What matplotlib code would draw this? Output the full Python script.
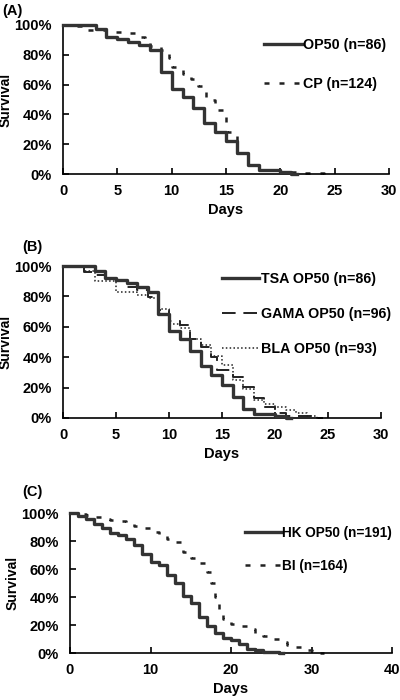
import matplotlib
matplotlib.use("Agg")
import matplotlib.pyplot as plt

plt.rcParams['font.family'] = ['Liberation Sans', 'DejaVu Sans']
plt.rcParams['font.weight'] = 'bold'

# Panel A
a_op50_days = [0, 3, 4, 5, 6, 7, 8, 9, 10, 11, 12, 13, 14, 15, 16, 17, 18, 20, 21, 21.5]
a_op50_surv = [100, 97, 92, 90.5, 88.5, 86.5, 83, 68.5, 57, 52, 44, 34, 28, 22, 14, 6, 2.5, 1.2, 0, 0]
a_cp_days = [0, 1, 2, 4, 5, 6, 7, 7.5, 8, 9, 9.8, 10, 11, 11.8, 12.4, 13, 13.2, 14, 15, 15.1, 16, 17, 18, 20, 22, 24, 24.5]
a_cp_surv = [100, 99, 96.5, 95.5, 95, 94.5, 92, 89, 86, 83, 78, 72, 67, 64, 59, 56, 50, 43, 35, 28, 14, 6, 3, 1.5, 0.8, 0, 0]

# Panel B
b_tsa_days = a_op50_days
b_tsa_surv = a_op50_surv
b_gama_days = [0, 2, 3, 4, 5, 6, 7, 8, 9, 10, 11, 12, 13, 14, 14.5, 16, 17, 18, 19, 20, 21, 22, 24, 24.5]
b_gama_surv = [100, 96, 94, 92, 90, 86, 84, 79.5, 71, 64, 61, 52, 47, 40, 31.5, 27, 20.5, 13, 7.5, 3, 1.5, 1, 0, 0]
b_bla_days = [0, 2, 3, 5, 7, 8, 9, 10, 11, 12, 13, 14, 15, 16, 17, 18, 19, 20, 21, 22, 23, 24, 24.5]
b_bla_surv = [100, 97, 90, 83, 81, 79, 72, 62, 59, 52, 48, 41, 35, 25, 19, 12, 9, 7, 5, 3.3, 1, 0, 0]

# Panel C
c_hk_days = [0, 1, 2, 3, 4, 5, 6, 7, 8, 9, 10, 11, 12, 13, 14, 15, 16, 17, 18, 19, 20, 21, 22, 23, 24, 26, 26.5]
c_hk_surv = [100, 98, 96, 92, 89, 86, 84, 81.5, 77, 71, 65, 63, 56, 50, 41, 35.5, 26, 19.5, 14.5, 10.5, 9, 6.5, 3.2, 2, 1, 0, 0]
c_bi_days = [0, 1, 2, 3, 4, 5, 6, 7, 8, 9, 10, 11, 12, 13, 14, 15, 16, 17, 17.5, 18, 18.5, 19, 20, 21, 22, 23, 24, 25, 26, 27, 28, 29, 30, 31, 31.5]
c_bi_surv = [100, 99.5, 98.5, 97, 96, 95, 94, 92.5, 90.5, 89, 86.5, 84, 81.5, 79, 72, 68, 64, 58, 50, 40, 29, 24, 21, 19, 17, 14.5, 12, 10, 8, 6, 4.5, 2.5, 1, 0, 0]

y_ticks = [0, 20, 40, 60, 80, 100]
y_labels = [f"{v}%" for v in y_ticks]

fig = plt.figure(figsize=(4, 7), dpi=100)
dark = '#333333'
fs = 10.5


def style(ax, xmax, xticks):
    ax.set_xlim(0, xmax)
    ax.set_ylim(0, 100)
    ax.set_xticks(xticks)
    ax.set_yticks(y_ticks)
    ax.set_yticklabels(y_labels)
    for s in ['top', 'right']:
        ax.spines[s].set_visible(False)
    for s in ['left', 'bottom']:
        ax.spines[s].set_linewidth(1.2)
        ax.spines[s].set_color('black')
    ax.tick_params(direction='in', length=4, width=1.2, labelsize=fs)
    ax.tick_params(axis='x', pad=7)
    ax.tick_params(axis='y', pad=8)
    for lab in ax.get_xticklabels() + ax.get_yticklabels():
        lab.set_fontweight('bold')
    ax.set_xlabel('Days', fontsize=fs, fontweight='bold', labelpad=4)
    ax.set_ylabel('Survival', fontsize=10, fontweight='bold', labelpad=1)


leg_kw = dict(loc='upper left', frameon=False, handlelength=2.6, handletextpad=0.1,
              borderpad=0, borderaxespad=0)

# A
axA = fig.add_axes([0.1575, 0.7514, 0.815, 0.2129])
axA.step(a_cp_days, a_cp_surv, where='post', color='#222222', lw=1.8, ls=(0, (2, 4)), label='CP (n=124)', clip_on=False)
axA.step(a_op50_days, a_op50_surv, where='post', color=dark, lw=2.4, label='OP50 (n=86)', clip_on=False, zorder=3)
style(axA, 30, [0, 5, 10, 15, 20, 25, 30])
h, l = axA.get_legend_handles_labels()
axA.legend([h[1], h[0]], [l[1], l[0]], bbox_to_anchor=(0.618, 0.91),
           prop={'weight': 'bold', 'size': 10.3}, labelspacing=1.75, **leg_kw)
fig.text(0.005, 0.985, '(A)', fontsize=fs, fontweight='bold', va='center', ha='left')

# B
axB = fig.add_axes([0.1575, 0.4029, 0.795, 0.2171])
axB.step(b_bla_days, b_bla_surv, where='post', color='#222222', lw=1.1, ls=(0, (1, 1.5)), label='BLA OP50 (n=93)', clip_on=False)
axB.step(b_gama_days, b_gama_surv, where='post', color='#222222', lw=1.4, ls=(0, (7, 4)), label='GAMA OP50 (n=96)', clip_on=False)
axB.step(b_tsa_days, b_tsa_surv, where='post', color=dark, lw=2.4, label='TSA OP50 (n=86)', clip_on=False, zorder=3)
style(axB, 30, [0, 5, 10, 15, 20, 25, 30])
h, l = axB.get_legend_handles_labels()
axB.legend([h[2], h[1], h[0]], [l[2], l[1], l[0]], bbox_to_anchor=(0.5, 0.96),
           prop={'weight': 'bold', 'size': 10.3}, labelspacing=1.46, **leg_kw)
fig.text(0.055, 0.647, '(B)', fontsize=fs, fontweight='bold', va='center', ha='left')

# C
axC = fig.add_axes([0.175, 0.0671, 0.805, 0.2])
axC.step(c_bi_days, c_bi_surv, where='post', color='#222222', lw=1.8, ls=(0, (2, 4)), label='BI (n=164)', clip_on=False)
axC.step(c_hk_days, c_hk_surv, where='post', color=dark, lw=2.4, label='HK OP50 (n=191)', clip_on=False, zorder=3)
style(axC, 40, [0, 10, 20, 30, 40])
h, l = axC.get_legend_handles_labels()
axC.legend([h[1], h[0]], [l[1], l[0]], bbox_to_anchor=(0.545, 0.91),
           prop={'weight': 'bold', 'size': 9.8}, labelspacing=1.4, **leg_kw)
fig.text(0.055, 0.297, '(C)', fontsize=fs, fontweight='bold', va='center', ha='left')

fig.savefig('out.png', dpi=100)
